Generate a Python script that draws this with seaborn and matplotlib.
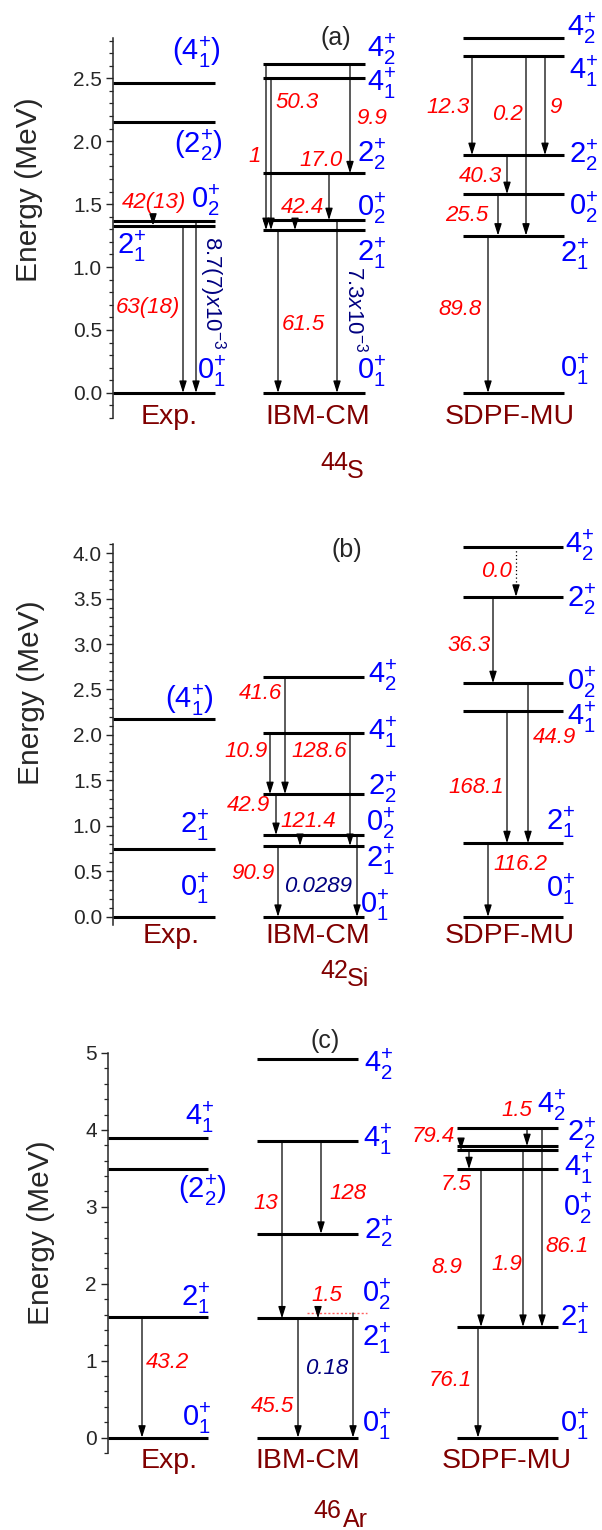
import matplotlib
matplotlib.use("Agg")
import matplotlib.pyplot as plt
import matplotlib.ticker as ticker
import seaborn as sns

sns.set_style("ticks")
plt.rcParams['font.family'] = ['Liberation Sans', 'DejaVu Sans']
plt.rcParams['mathtext.fontset'] = 'custom'
plt.rcParams['mathtext.rm'] = 'Liberation Sans'
plt.rcParams['mathtext.it'] = 'Liberation Sans:italic'
plt.rcParams['mathtext.sf'] = 'Liberation Sans'
plt.rcParams['mathtext.bf'] = 'Liberation Sans:bold'

# ---------------- data: level energies (MeV), spins, B(E2) values ----------------
# 44S
S44_EXP_E = [0.0, 1.329, 1.365, 2.150, 2.459]
S44_EXP_J = ['0_1', '2_1', '0_2', '(2_2)', '(4_1)']
S44_EXP_TR = [(2, 1, '42(13)'), (1, 0, '63(18)'), (2, 0, r'8.7(7)x10^{-3}')]

S44_IBM_E = [0.0, 1.294, 1.373, 1.745, 2.50, 2.61]
S44_IBM_J = ['0_1', '2_1', '0_2', '2_2', '4_1', '4_2']
S44_IBM_TR = [(5, 1, '1'), (4, 1, '50.3'), (5, 3, '9.9'), (3, 2, '17.0'),
              (2, 1, '42.4'), (1, 0, '61.5'), (2, 0, r'7.3x10^{-3}')]

S44_SM_E = [0.0, 1.25, 1.58, 1.89, 2.68, 2.82]
S44_SM_J = ['0_1', '2_1', '0_2', '2_2', '4_1', '4_2']
S44_SM_TR = [(4, 3, '12.3'), (4, 1, '0.2'), (4, 3, '9'), (3, 2, '40.3'),
             (2, 1, '25.5'), (1, 0, '89.8')]

# 42Si
SI42_EXP_E = [0.0, 0.742, 2.17]
SI42_EXP_J = ['0_1', '2_1', '(4_1)']
SI42_EXP_TR = []

SI42_IBM_E = [0.0, 0.78, 0.90, 1.35, 2.02, 2.64]
SI42_IBM_J = ['0_1', '2_1', '0_2', '2_2', '4_1', '4_2']
SI42_IBM_TR = [(5, 3, '41.6'), (4, 3, '10.9'), (4, 1, '128.6'), (3, 2, '42.9'),
               (2, 1, '121.4'), (1, 0, '90.9'), (2, 0, '0.0289')]

SI42_SM_E = [0.0, 0.81, 2.26, 2.57, 3.52, 4.07]
SI42_SM_J = ['0_1', '2_1', '4_1', '0_2', '2_2', '4_2']
SI42_SM_TR = [(5, 4, '0.0'), (4, 3, '36.3'), (2, 1, '168.1'), (3, 1, '44.9'),
              (1, 0, '116.2')]

# 46Ar
AR46_EXP_E = [0.0, 1.57, 3.49, 3.90]
AR46_EXP_J = ['0_1', '2_1', '(2_2)', '4_1']
AR46_EXP_TR = [(1, 0, '43.2')]

AR46_IBM_E = [0.0, 1.55, 1.62, 2.65, 3.86, 4.92]
AR46_IBM_J = ['0_1', '2_1', '0_2', '2_2', '4_1', '4_2']
AR46_IBM_TR = [(4, 1, '13'), (4, 3, '128'), (2, 1, '1.5'), (1, 0, '45.5'),
               (2, 0, '0.18')]

AR46_SM_E = [0.0, 1.44, 3.49, 3.74, 3.79, 4.03]
AR46_SM_J = ['0_1', '2_1', '4_1', '0_2', '4_2', '2_2']
AR46_SM_TR = [(5, 4, '1.5'), (4, 3, '79.4'), (3, 2, '7.5'), (2, 1, '8.9'),
              (3, 1, '1.9'), (5, 1, '86.1'), (1, 0, '76.1')]

COLUMNS = ['Exp.', 'IBM-CM', 'SDPF-MU']
NUCLEI = [('44', 'S'), ('42', 'Si'), ('46', 'Ar')]
PANELS = ['(a)', '(b)', '(c)']

# ---------------- layout (pixel x positions, label anchors) ----------------
RED = '#FF0000'
BLUE = '#0000FF'
NAVY = '#000080'
DARKRED = '#800000'

LAYOUT = [
    dict(rect=(113, 38, 418), ylim=(-0.2, 2.82), major=0.5, minor=0.1, ylab_y=0.60, ylab_x=29,
         cols=[(113, 215), (263, 365), (463, 564)],
         title=(336, 2.82), colpos=[(169, -0.25), (318, -0.25), (510, -0.25)],
         nuc=[(320, -0.61), (347, -0.675)],
         lab=[[(212, 0.17), (132, 1.17), (206, 1.53), (198, 1.97), (196, 2.71)],
              [(372, 0.17), (372, 1.11), (372, 1.47), (372, 1.90), (382, 2.46), (382, 2.73)],
              [(575, 0.19), (575, 1.10), (584, 1.48), (584, 1.89), (584, 2.56), (582, 2.90)]],
         trx=[[153, 183, 196], [266, 271, 350, 329, 295, 278, 337], [472, 526, 545, 507, 498, 488]],
         trt=[[(154, 1.515), (148, 0.68), (212, 0.80)],
              [(255, 1.88), (297, 2.31), (372, 2.18), (321, 1.85), (302, 1.47), (303, 0.54), (355, 0.67)],
              [(448, 2.27), (507, 2.21), (555, 2.27), (480, 1.72), (467, 1.41), (460, 0.66)]],
         kind=[['r', 'r', 'v'], ['r'] * 6 + ['v'], ['r'] * 6]),
    dict(rect=(113, 544, 925), ylim=(-0.09, 4.1), major=0.5, minor=0.1, ylab_y=0.61, ylab_x=31,
         cols=[(113, 215), (263, 364), (463, 563)],
         title=(347, 4.03), colpos=[(171, -0.29), (318, -0.29), (510, -0.29)],
         nuc=[(320, -0.67), (347, -0.76)],
         lab=[[(195, 0.32), (195, 1.01), (189, 2.38)],
              [(375, 0.13), (381, 0.63), (381, 1.03), (383, 1.43), (383, 2.03), (383, 2.66)],
              [(561, 0.30), (561, 1.04), (582, 2.20), (582, 2.58), (582, 3.49), (580, 4.09)]],
         trx=[[], [285, 270, 350, 276, 300, 278, 357], [516, 493, 507, 528, 488]],
         trt=[[],
              [(260, 2.46), (246, 1.82), (319, 1.82), (248, 1.22), (308, 1.05), (253, 0.48), (318, 0.33)],
              [(496, 3.80), (469, 2.98), (476, 1.42), (554, 1.97), (520, 0.57)]],
         kind=[[], ['r'] * 6 + ['n'], ['d', 'r', 'r', 'r', 'r']]),
    dict(rect=(108, 1053, 1453), ylim=(-0.2, 5.0), major=1, minor=0.2, ylab_y=0.55, ylab_x=41,
         cols=[(108, 208), (257, 358), (457, 558)],
         title=(325, 5.16), colpos=[(169, -0.39), (308, -0.39), (507, -0.39)],
         nuc=[(313, -1.04), (343, -1.16)],
         lab=[[(197, 0.26), (196, 1.82), (202, 3.22), (200, 4.17)],
              [(377, 0.17), (377, 1.30), (377, 1.86), (379, 2.68), (378, 3.88), (379, 4.86)],
              [(575, 0.17), (575, 1.56), (579, 3.51), (578, 2.99), (552, 4.32), (582, 3.96)]],
         trx=[[142], [282, 321, 318, 298, 353], [527, 461, 469, 481, 523, 542, 478]],
         trt=[[(167, 0.97)],
              [(266, 3.04), (348, 3.17), (327, 1.85), (272, 0.41), (327, 0.90)],
              [(517, 4.25), (433, 3.91), (456, 3.29), (447, 2.21), (507, 2.25), (567, 2.48), (450, 0.74)]],
         kind=[['r'], ['r', 'r', 'r', 'r', 'n'], ['r'] * 7]),
]
# special level line: 46Ar IBM-CM 0_2 drawn as short red dotted line
SPECIAL = {(2, 1, 2): dict(x=(307, 367), color='#FF6060', ls=(0, (1.5, 1.5)), lw=1.0)}

DATA = [
    [(S44_EXP_E, S44_EXP_J, S44_EXP_TR), (S44_IBM_E, S44_IBM_J, S44_IBM_TR), (S44_SM_E, S44_SM_J, S44_SM_TR)],
    [(SI42_EXP_E, SI42_EXP_J, SI42_EXP_TR), (SI42_IBM_E, SI42_IBM_J, SI42_IBM_TR), (SI42_SM_E, SI42_SM_J, SI42_SM_TR)],
    [(AR46_EXP_E, AR46_EXP_J, AR46_EXP_TR), (AR46_IBM_E, AR46_IBM_J, AR46_IBM_TR), (AR46_SM_E, AR46_SM_J, AR46_SM_TR)],
]

W, H = 602, 1530
ARROW = dict(arrowstyle='-|>,head_length=0.7,head_width=0.22', color='k', lw=0.9,
             shrinkA=0, shrinkB=0, mutation_scale=10)


def spin_text(s):
    par = s.startswith('(')
    j, n = s.strip('()').split('_')
    t = j + '^{+}_{' + n + '}'
    if par:
        t = '(' + t + ')'
    return r'$\mathrm{' + t + '}$'


def draw_arrow(ax, x, e1, e2, dotted=False):
    if dotted:
        ax.plot([x, x], [e1, e2], color='k', lw=0.9, ls=(0, (1, 2)), clip_on=False)
        ax.annotate('', xy=(x, e2), xytext=(x, e2 + 0.12), arrowprops=ARROW, annotation_clip=False)
    else:
        ax.annotate('', xy=(x, e2), xytext=(x, e1), arrowprops=ARROW, annotation_clip=False)


fig = plt.figure(figsize=(W / 100, H / 100), dpi=100)

for p, lay in enumerate(LAYOUT):
    x0px, top, bot = lay['rect']
    ax = fig.add_axes([x0px / W, 1 - bot / H, (600 - x0px) / W, (bot - top) / H])
    ax.set_xlim(x0px, 600)
    ax.set_ylim(*lay['ylim'])
    sns.despine(ax=ax, top=True, right=True, bottom=True)
    ax.set_xticks([])
    ax.spines['left'].set_linewidth(1.1)
    ax.yaxis.set_major_locator(ticker.MultipleLocator(lay['major']))
    ax.yaxis.set_minor_locator(ticker.MultipleLocator(lay['minor']))
    ax.tick_params(axis='y', which='major', direction='out', length=5, width=1.0,
                   labelsize=15, pad=3)
    ax.tick_params(axis='y', which='minor', direction='out', length=3, width=0.9)
    ax.set_ylabel('Energy (MeV)', fontsize=21.5)
    ax.yaxis.set_label_coords((lay['ylab_x'] + 14 - x0px) / (600 - x0px), lay['ylab_y'])

    for c, (energies, spins, trans) in enumerate(DATA[p]):
        xa, xb = lay['cols'][c]
        for k, e in enumerate(energies):
            sp = SPECIAL.get((p, c, k))
            if sp:
                ax.plot(sp['x'], [e, e], color=sp['color'], ls=sp['ls'], lw=sp['lw'])
            else:
                ax.plot([xa, xb], [e, e], color='k', lw=2.2, solid_capstyle='butt', clip_on=False)
        for k, s in enumerate(spins):
            lx, ly = lay['lab'][c][k]
            ax.text(lx, ly, spin_text(s), color=BLUE, fontsize=21, ha='center', va='center',
                    clip_on=False)
        for t, (i, f, val) in enumerate(trans):
            kind = lay['kind'][c][t]
            draw_arrow(ax, lay['trx'][c][t], energies[i], energies[f], dotted=(kind == 'd'))
            tx, ty = lay['trt'][c][t]
            if kind == 'v':
                ax.text(tx, ty, r'$\mathit{' + val + '}$', color=NAVY, fontsize=16,
                        rotation=270, ha='center', va='center')
            elif kind == 'n':
                ax.text(tx, ty, val, color=NAVY, fontsize=16, style='italic',
                        ha='center', va='center')
            else:
                ax.text(tx, ty, val, color=RED, fontsize=16, style='italic',
                        ha='center', va='center')
        cx, cy = lay['colpos'][c]
        ax.text(cx, cy, COLUMNS[c], color=DARKRED, fontsize=20.5, ha='center', va='baseline',
                clip_on=False)

    ax.text(*lay['title'], PANELS[p], fontsize=18, ha='center', va='center', clip_on=False)
    (mx, my), (sx, sy) = lay['nuc']
    ax.text(mx, my, NUCLEI[p][0], color=DARKRED, fontsize=18, ha='left', va='baseline')
    ax.text(sx, sy, NUCLEI[p][1], color=DARKRED, fontsize=18, ha='left', va='baseline')

fig.savefig('out.png', dpi=100)
